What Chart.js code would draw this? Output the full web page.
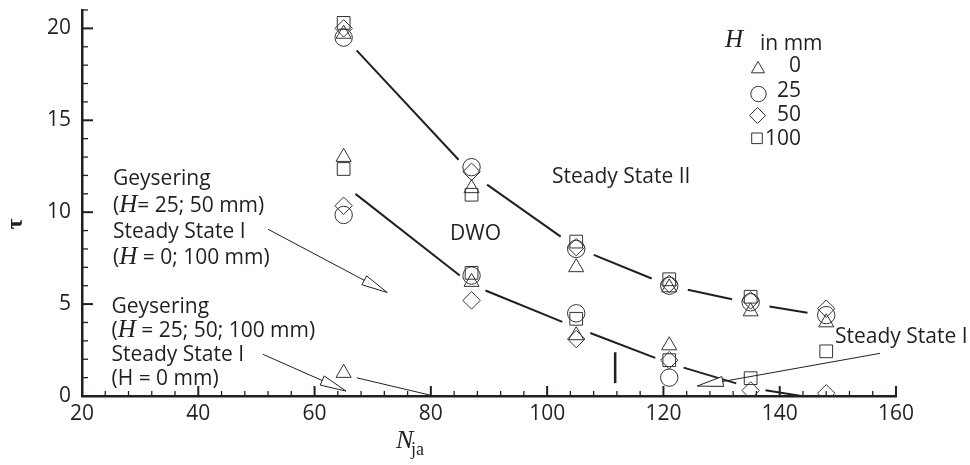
<!DOCTYPE html>
<html>
<head>
<meta charset="utf-8">
<title>tau vs N_ja</title>
<script src="https://cdn.jsdelivr.net/npm/chart.js@4.4.1/dist/chart.umd.min.js"></script>
<style>
  html, body { margin: 0; padding: 0; background: #fff; }
  #wrap { width: 970px; height: 465px; position: relative; }
</style>
</head>
<body>
<div id="wrap"><canvas id="c"></canvas></div>
<script>
// Tick labels
const xTicks = [20, 40, 60, 80, 100, 120, 140, 160];
const yTicks = [0, 5, 10, 15, 20];

// H = 0 mm (triangles)
const nH0   = [65, 87, 105, 121, 135, 148, 65, 87, 105, 121, 65];
const tauH0 = [19.7, 11.3, 7.0, 5.9, 4.6, 4.0, 13.0, 6.2, 3.3, 2.75, 1.25];
// H = 25 mm (circles)
const nH25   = [65, 87, 105, 121, 135, 148, 65, 87, 105, 121];
const tauH25 = [19.5, 12.45, 8.0, 6.0, 5.1, 4.4, 9.85, 6.55, 4.5, 1.0];
// H = 50 mm (diamonds)
const nH50   = [65, 87, 105, 121, 135, 148, 65, 87, 105, 121, 135, 148];
const tauH50 = [20.0, 12.2, 8.1, 6.1, 5.2, 4.75, 10.35, 5.2, 3.1, 1.95, 0.3, 0.15];
// H = 100 mm (squares)
const nH100   = [65, 87, 105, 121, 135, 65, 87, 105, 121, 135, 148];
const tauH100 = [20.3, 10.95, 8.4, 6.35, 5.4, 12.35, 6.7, 4.2, 1.95, 0.97, 2.43];

// regime boundaries (drawn with gaps around the markers)
const fitN     = [65, 87, 105, 121, 135, 148];
const fitUpper = [19.56, 12.1, 8.07, 6.0, 5.04, 4.36];
const fitLower = [11.5, 6.05, 3.72, 1.78, 0.45, -0.22];

// short vertical bar near N = 112
const barN   = [111.7, 111.7];
const barTau = [0.7, 2.38];

// annotation arrows, data coords [N, tau]
const arrows = [
  { from: [52.0, 9.07],   to: [72.5, 5.63],  head: true },
  { from: [51.1, 2.27],   to: [65.4, 0.27],  head: true },
  { from: [67.25, 0.99],  to: [79.85, 0.05], head: false },
  { from: [157.25, 2.32], to: [125.8, 0.54], head: true }
];

const ink  = '#231f20';
const SANS = "21px 'Open Sans'";
const ITAL = "italic 25px 'Liberation Serif'";

// text notes: runs of [text, font], left x, baseline y (px)
const notes = [
  [[['Geysering', SANS]], 113, 185],
  [[['(', SANS], ['H', ITAL], ['= 25; 50 mm)', SANS]], 113, 211.5],
  [[['Steady State I', SANS]], 113, 238],
  [[['(', SANS], ['H', ITAL], [' = 0; 100 mm)', SANS]], 113, 264],
  [[['Geysering', SANS]], 111.5, 312.5],
  [[['(', SANS], ['H', ITAL], [' = 25; 50; 100 mm)', SANS]], 111.5, 336.5],
  [[['Steady State I', SANS]], 111.5, 361],
  [[['(H = 0 mm)', SANS]], 111.5, 385],
  [[['Steady State II', SANS]], 552, 183],
  [[['DWO', SANS]], 450, 240],
  [[['Steady State I', SANS]], 835, 343]
];

function pts(xs, ys) { return xs.map((x, i) => ({ x: x, y: ys[i] })); }

function runs(ctx, list, x, y) {
  list.forEach(r => {
    ctx.font = r[1];
    ctx.fillText(r[0], x, y);
    x += ctx.measureText(r[0]).width;
  });
}

function shape(ctx, kind, x, y, r) {
  ctx.beginPath();
  if (kind === 'triangle') {
    for (let k = 0; k < 3; k++) {
      const a = k * 2 * Math.PI / 3;
      const px = x + Math.sin(a) * r, py = y - Math.cos(a) * r;
      k ? ctx.lineTo(px, py) : ctx.moveTo(px, py);
    }
    ctx.closePath();
  } else if (kind === 'circle') {
    ctx.arc(x, y, r, 0, Math.PI * 2);
  } else if (kind === 'rectRot') {
    ctx.moveTo(x - r, y); ctx.lineTo(x, y - r); ctx.lineTo(x + r, y); ctx.lineTo(x, y + r);
    ctx.closePath();
  } else {
    ctx.rect(x - r, y - r, 2 * r, 2 * r);
  }
  ctx.stroke();
}

// gapped boundary lines + arrows
const overlay = {
  id: 'overlay',
  afterDatasetsDraw(chart) {
    const ctx = chart.ctx, a = chart.chartArea;
    const sx = chart.scales.x, sy = chart.scales.y;
    ctx.save();
    ctx.beginPath();
    ctx.rect(a.left, a.top, a.right - a.left, a.bottom - a.top);
    ctx.clip();
    chart.data.datasets.forEach((ds, i) => {
      if (!ds.gap) return;
      const p = chart.getDatasetMeta(i).data;
      ctx.strokeStyle = ink;
      ctx.lineWidth = 2;
      for (let k = 0; k < p.length - 1; k++) {
        const dx = p[k + 1].x - p[k].x, dy = p[k + 1].y - p[k].y;
        const L = Math.hypot(dx, dy), ux = dx / L, uy = dy / L;
        ctx.beginPath();
        ctx.moveTo(p[k].x + ux * ds.gap, p[k].y + uy * ds.gap);
        ctx.lineTo(p[k + 1].x - ux * ds.gap, p[k + 1].y - uy * ds.gap);
        ctx.stroke();
      }
    });
    ctx.restore();

    ctx.save();
    ctx.strokeStyle = ink;
    ctx.lineWidth = 1;
    arrows.forEach(ar => {
      const x0 = sx.getPixelForValue(ar.from[0]), y0 = sy.getPixelForValue(ar.from[1]);
      const x1 = sx.getPixelForValue(ar.to[0]),   y1 = sy.getPixelForValue(ar.to[1]);
      const L = Math.hypot(x1 - x0, y1 - y0), ux = (x1 - x0) / L, uy = (y1 - y0) / L;
      const hl = ar.head ? 26 : 0, hw = 5;
      ctx.beginPath();
      ctx.moveTo(x0, y0);
      ctx.lineTo(x1 - ux * hl * 0.6, y1 - uy * hl * 0.6);
      ctx.stroke();
      if (ar.head) {
        const bx = x1 - ux * hl, by = y1 - uy * hl;
        ctx.beginPath();
        ctx.moveTo(x1, y1);
        ctx.lineTo(bx - uy * hw, by + ux * hw);
        ctx.lineTo(bx + uy * hw, by - ux * hw);
        ctx.closePath();
        ctx.fillStyle = '#fff';
        ctx.fill();
        ctx.stroke();
      }
    });
    ctx.restore();
  },
  afterDraw(chart) {
    const ctx = chart.ctx, a = chart.chartArea;
    const sx = chart.scales.x, sy = chart.scales.y;
    ctx.save();
    ctx.strokeStyle = ink;
    // inward ticks
    for (let v = 20; v <= 160; v += 4) {
      const major = v % 20 === 0, px = sx.getPixelForValue(v);
      ctx.lineWidth = major ? 2 : 1.3;
      ctx.beginPath();
      ctx.moveTo(px, a.bottom);
      ctx.lineTo(px, a.bottom - (major ? 10 : 5));
      ctx.stroke();
    }
    for (let v = 0; v <= 21; v += 1) {
      const major = v % 5 === 0, py = sy.getPixelForValue(v);
      ctx.lineWidth = major ? 2 : 1.3;
      ctx.beginPath();
      ctx.moveTo(a.left, py);
      ctx.lineTo(a.left + (major ? 11 : 6), py);
      ctx.stroke();
    }

    // notes
    ctx.fillStyle = ink;
    ctx.textBaseline = 'alphabetic';
    ctx.textAlign = 'left';
    notes.forEach(n => runs(ctx, n[0], n[1], n[2]));

    // legend
    runs(ctx, [['H', ITAL]], 725, 47);
    runs(ctx, [['in mm', SANS]], 760, 49.5);
    ctx.textAlign = 'right';
    ctx.font = SANS;
    ['0', '25', '50', '100'].forEach((t, i) => ctx.fillText(t, 801, [71.7, 96.7, 120.7, 145][i]));
    ctx.lineWidth = 1;
    ctx.strokeStyle = '#333';
    shape(ctx, 'triangle', 758, 69, 7.6);
    shape(ctx, 'circle', 758.5, 94, 7.7);
    shape(ctx, 'rectRot', 757.5, 115.5, 8);
    shape(ctx, 'rect', 757, 138.3, 5.3);

    // axis titles
    ctx.textAlign = 'left';
    runs(ctx, [['N', "italic 26px 'Liberation Serif'"]], 396, 448);
    runs(ctx, [['ja', "18px 'Liberation Serif'"]], 411, 455);
    ctx.translate(16, 224);
    ctx.rotate(-Math.PI / 2);
    ctx.textAlign = 'center';
    ctx.textBaseline = 'middle';
    ctx.font = "bold 24px 'Liberation Serif'";
    ctx.fillText('\u03c4', 0, 0);
    ctx.restore();
  }
};

function marker(label, xs, ys, style, r) {
  return {
    label: label, data: pts(xs, ys), pointStyle: style, pointRadius: r,
    borderColor: '#333', backgroundColor: 'rgba(0,0,0,0)', borderWidth: 1, showLine: false
  };
}

Chart.defaults.font.family = "'Open Sans', sans-serif";
Chart.defaults.color = ink;

new Chart(document.getElementById('c'), {
  type: 'scatter',
  data: {
    datasets: [
      { label: 'upper', data: pts(fitN, fitUpper), pointRadius: 0, showLine: false, gap: 19 },
      { label: 'lower', data: pts(fitN, fitLower), pointRadius: 0, showLine: false, gap: 15 },
      { label: 'bar', data: pts(barN, barTau), pointRadius: 0, showLine: true, borderColor: ink, borderWidth: 2.5 },
      marker('0', nH0, tauH0, 'triangle', 8.7),
      marker('25', nH25, tauH25, 'circle', 8.7),
      marker('50', nH50, tauH50, 'rectRot', 8.7),
      marker('100', nH100, tauH100, 'rect', 9)
    ]
  },
  options: {
    responsive: true,
    maintainAspectRatio: false,
    animation: false,
    layout: { padding: { left: 0, right: 74, top: 7, bottom: 0 } },
    plugins: { legend: { display: false }, tooltip: { enabled: false } },
    scales: {
      x: {
        type: 'linear', min: 20, max: 160,
        afterBuildTicks: s => { s.ticks = xTicks.map(v => ({ value: v })); },
        afterFit: s => { s.height = 69; s.paddingLeft = 0; s.paddingRight = 0; },
        grid: { display: false, drawTicks: false },
        border: { display: true, color: ink, width: 2.5 },
        ticks: { padding: 5, color: ink, font: { size: 21 } }
      },
      y: {
        type: 'linear', min: 0, max: 21,
        afterBuildTicks: s => { s.ticks = yTicks.map(v => ({ value: v })); },
        afterFit: s => { s.width = 82; s.paddingTop = 0; s.paddingBottom = 0; },
        grid: { display: false, drawTicks: false },
        border: { display: true, color: ink, width: 2.5 },
        ticks: { padding: 11, color: ink, font: { size: 21 } }
      }
    }
  },
  plugins: [overlay]
});
</script>
</body>
</html>
